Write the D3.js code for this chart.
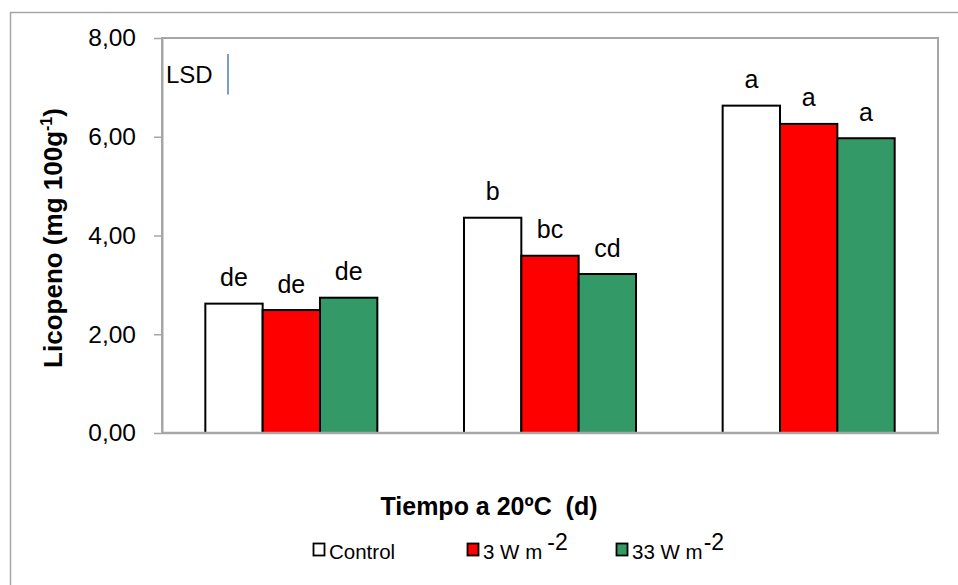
<!DOCTYPE html>
<html>
<head>
<meta charset="utf-8">
<script src="https://cdn.jsdelivr.net/npm/d3@7"></script>
<style>
  html, body { margin: 0; padding: 0; background: #fff; }
  svg { display: block; font-family: "Liberation Sans", Arial, sans-serif; }
</style>
</head>
<body>
<svg id="chart" width="958" height="585"></svg>
<script>
// Sampling days (groups along the x axis; their names are not printed)
const categories = ["d1", "d2", "d3"];
// Treatments
const seriesNames = ["Control", "3 W m", "33 W m"];
const seriesColors = ["#ffffff", "#ff0000", "#339966"];
// Lycopene, mg 100 g-1, one array per treatment
const controlValues = [2.62, 4.36, 6.63];
const w3Values = [2.49, 3.59, 6.26];
const w33Values = [2.74, 3.22, 5.97];
// Significance letters per treatment
const controlLetters = ["de", "b", "a"];
const w3Letters = ["de", "bc", "a"];
const w33Letters = ["de", "cd", "a"];
// Y axis ticks
const yTicks = [0, 2, 4, 6, 8];
const yTickLabels = ["0,00", "2,00", "4,00", "6,00", "8,00"];
// Least significant difference, drawn as a vertical bar
const lsdValue = 0.82;

const seriesValues = [controlValues, w3Values, w33Values];
const seriesLetters = [controlLetters, w3Letters, w33Letters];

const svg = d3.select("#chart");
const plot = { left: 162, right: 938, top: 38, bottom: 433 };

// Outer chart frame
svg.append("rect")
  .attr("x", 10.5).attr("y", 12.5)
  .attr("width", 1000).attr("height", 1000)
  .attr("fill", "none").attr("stroke", "#a6a6a6").attr("stroke-width", 1.5);

const x0 = d3.scaleBand()
  .domain(categories)
  .range([plot.left, plot.right])
  .paddingInner(0.335)
  .paddingOuter(0.1675);

const x1 = d3.scaleBand()
  .domain(d3.range(seriesNames.length))
  .range([0, x0.bandwidth()]);

const y = d3.scaleLinear().domain([0, 8]).range([plot.bottom, plot.top]);

// Plot area border
svg.append("rect")
  .attr("x", plot.left).attr("y", plot.top)
  .attr("width", plot.right - plot.left).attr("height", plot.bottom - plot.top)
  .attr("fill", "none").attr("stroke", "#a6a6a6").attr("stroke-width", 2);

// Y axis
const yAxis = d3.axisLeft(y)
  .tickValues(yTicks)
  .tickFormat((d, i) => yTickLabels[i])
  .tickSizeInner(8)
  .tickSizeOuter(0)
  .tickPadding(18);

const yg = svg.append("g")
  .attr("transform", `translate(${plot.left},0)`)
  .call(yAxis);
yg.select(".domain").attr("stroke", "#a6a6a6").attr("stroke-width", 2);
yg.selectAll(".tick line").attr("stroke", "#a6a6a6").attr("stroke-width", 1.5);
yg.selectAll(".tick text")
  .attr("font-size", 24.5)
  .attr("fill", "#000")
  .attr("font-family", "Liberation Sans, Arial, sans-serif");

// Bars
const rows = [];
categories.forEach((c, ci) => {
  seriesNames.forEach((s, si) => {
    rows.push({ cat: c, si, value: seriesValues[si][ci], letter: seriesLetters[si][ci] });
  });
});

svg.append("g").selectAll("rect")
  .data(rows)
  .join("rect")
  .attr("x", d => x0(d.cat) + x1(d.si))
  .attr("y", d => y(d.value))
  .attr("width", x1.bandwidth())
  .attr("height", d => y(0) - y(d.value))
  .attr("fill", d => seriesColors[d.si])
  .attr("stroke", "#000")
  .attr("stroke-width", 2);

// X axis baseline (drawn over the bar bottoms)
svg.append("line")
  .attr("x1", plot.left).attr("x2", plot.right)
  .attr("y1", y(0)).attr("y2", y(0))
  .attr("stroke", "#a6a6a6").attr("stroke-width", 2.5);

// Significance letters
svg.append("g").selectAll("text")
  .data(rows)
  .join("text")
  .attr("x", d => x0(d.cat) + x1(d.si) + x1.bandwidth() / 2)
  .attr("y", d => y(d.value) - 17.5)
  .attr("text-anchor", "middle")
  .attr("font-size", 25)
  .attr("fill", "#000")
  .text(d => d.letter);

// LSD marker
svg.append("text")
  .attr("x", 166).attr("y", 83)
  .attr("font-size", 24)
  .attr("fill", "#000")
  .text("LSD");
const lsdTop = 54;
svg.append("line")
  .attr("x1", 228).attr("x2", 228)
  .attr("y1", lsdTop).attr("y2", lsdTop + (y(0) - y(lsdValue)))
  .attr("stroke", "#4a7ebb").attr("stroke-width", 1.5);

// Axis titles
const yTitle = svg.append("text")
  .attr("transform", "translate(62,238) rotate(-90)")
  .attr("text-anchor", "middle")
  .attr("font-size", 26)
  .attr("font-weight", "bold")
  .attr("fill", "#000");
yTitle.append("tspan").text("Licopeno (mg 100g");
yTitle.append("tspan").attr("font-size", 16).attr("dy", -10).text("-1");
yTitle.append("tspan").attr("dy", 10).text(")");

svg.append("text")
  .attr("x", 489).attr("y", 515)
  .attr("text-anchor", "middle")
  .attr("font-size", 25)
  .attr("font-weight", "bold")
  .attr("fill", "#000")
  .attr("xml:space", "preserve")
  .text("Tiempo a 20ºC  (d)");

// Legend
const legendX = [313, 467, 616];
const legend = svg.append("g").selectAll("g")
  .data(seriesNames)
  .join("g")
  .attr("transform", (d, i) => `translate(${legendX[i]},0)`);
legend.append("rect")
  .attr("x", 0.5).attr("y", 543.5)
  .attr("width", 11).attr("height", 12)
  .attr("fill", (d, i) => seriesColors[i])
  .attr("stroke", "#000").attr("stroke-width", 1.8);
const lt = legend.append("text")
  .attr("x", 16).attr("y", 559)
  .attr("font-size", 20.5)
  .attr("fill", "#000");
lt.append("tspan").text(d => d);
lt.filter((d, i) => i > 0)
  .append("tspan")
  .attr("dx", (d, i) => i === 1 ? 1 : 5)
  .attr("dy", -9)
  .attr("font-size", 23)
  .text("-2");
</script>
</body>
</html>
